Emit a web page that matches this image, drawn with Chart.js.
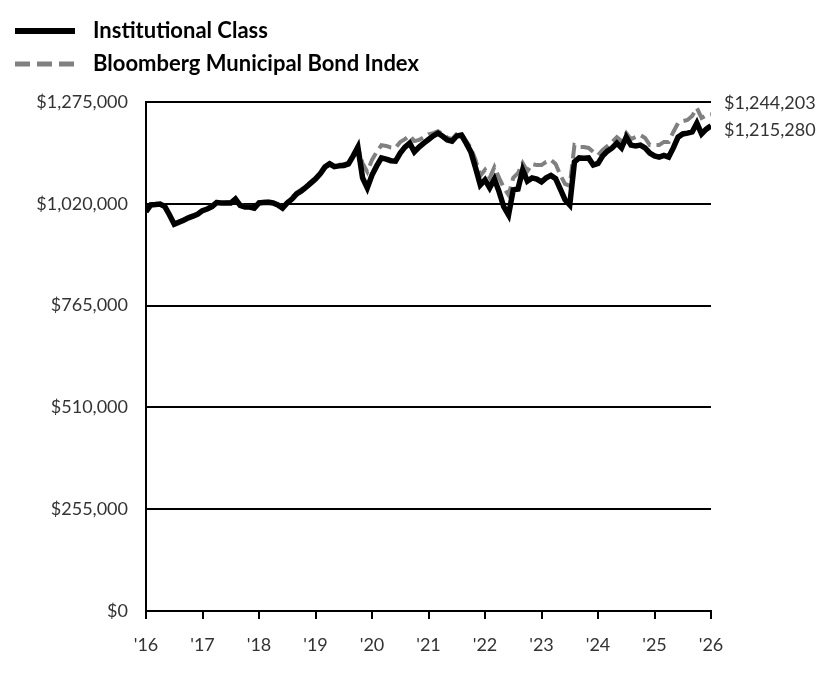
<!DOCTYPE html>
<html>
<head>
<meta charset="utf-8">
<script src="https://cdn.jsdelivr.net/npm/chart.js@4.4.1/dist/chart.umd.min.js"></script>
<style>
  body { margin: 0; background: #fff; }
  #wrap { position: relative; width: 840px; height: 696px; }
  canvas { position: absolute; left: 0; top: 0; }
  .leg { position: absolute; left: 15px; font-family: Lato, sans-serif; font-weight: bold; font-size: 22px; color: #000; }
  .leg svg { position: absolute; left: 0; top: -4px; }
  .leg span { position: absolute; left: 78px; white-space: nowrap; line-height: 24px; top: -13px; }
</style>
</head>
<body>
<div id="wrap">
  <canvas id="growthChart" width="840" height="696"></canvas>
  <div class="leg" style="top:31px">
    <svg width="62" height="8"><line x1="0" y1="4" x2="60" y2="4" stroke="#000" stroke-width="6"/></svg>
    <span>Institutional Class</span>
  </div>
  <div class="leg" style="top:64px">
    <svg width="62" height="8"><line x1="0" y1="4" x2="60" y2="4" stroke="#808080" stroke-width="5" stroke-dasharray="15 7"/></svg>
    <span>Bloomberg Municipal Bond Index</span>
  </div>
</div>
<script>
// monthly values, 10 years ('16 -> '26), 121 points
const instValues = [
  1000000, 1017000, 1018000, 1019500, 1013000, 992000, 969000, 974000, 979000, 985000, 989000, 994000,
  1003000, 1007000, 1013000, 1023000, 1022000, 1022000, 1022000, 1032000, 1016000, 1012000, 1012000, 1009000,
  1022000, 1023000, 1024000, 1022000, 1017000, 1009000, 1022000, 1032000, 1045000, 1052000, 1062000, 1072000,
  1082000, 1095000, 1112000, 1120000, 1113000, 1115000, 1116000, 1120000, 1140000, 1162000, 1085000, 1060000,
  1092000, 1115000, 1135000, 1132000, 1128000, 1127000, 1147000, 1162000, 1172000, 1150000, 1162000, 1172000,
  1181000, 1190000, 1197000, 1189000, 1180000, 1177000, 1190000, 1192000, 1172000, 1150000, 1110000, 1067000,
  1080000, 1060000, 1082000, 1050000, 1012000, 992000, 1055000, 1057000, 1105000, 1077000, 1085000, 1082000,
  1075000, 1085000, 1091000, 1083000, 1057000, 1030000, 1017000, 1125000, 1135000, 1134000, 1135000, 1117000,
  1121000, 1140000, 1152000, 1160000, 1172000, 1160000, 1187000, 1167000, 1165000, 1167000, 1160000, 1147000,
  1140000, 1137000, 1141000, 1137000, 1160000, 1187000, 1195000, 1197000, 1200000, 1222000, 1195000, 1207000,
  1215280
];

const indexValues = [
  1000000, 1018000, 1019000, 1020500, 1014000, 994000, 971000, 976000, 981000, 987000, 991000, 996000,
  1005000, 1009000, 1015000, 1025000, 1024000, 1024000, 1024000, 1034000, 1018000, 1014000, 1014000, 1011000,
  1024000, 1025000, 1026000, 1024000, 1019000, 1012000, 1024000, 1036000, 1048000, 1056000, 1065000, 1075000,
  1085000, 1098000, 1114000, 1122000, 1116000, 1118000, 1119000, 1123000, 1142000, 1160000, 1122000, 1100000,
  1130000, 1150000, 1167000, 1165000, 1161000, 1160000, 1175000, 1182000, 1191000, 1177000, 1180000, 1187000,
  1194000, 1197000, 1202000, 1195000, 1186000, 1182000, 1195000, 1196000, 1177000, 1160000, 1130000, 1090000,
  1105000, 1085000, 1112000, 1085000, 1060000, 1042000, 1085000, 1097000, 1122000, 1102000, 1120000, 1117000,
  1117000, 1125000, 1130000, 1120000, 1092000, 1070000, 1065000, 1167000, 1162000, 1162000, 1160000, 1150000,
  1142000, 1155000, 1165000, 1175000, 1187000, 1177000, 1197000, 1182000, 1187000, 1192000, 1185000, 1167000,
  1167000, 1167000, 1175000, 1175000, 1200000, 1222000, 1227000, 1230000, 1240000, 1260000, 1235000, 1242000,
  1244203
];

const yearLabels = ["'16", "'17", "'18", "'19", "'20", "'21", "'22", "'23", "'24", "'25", "'26"];
const yTicks = [0, 255000, 510000, 765000, 1020000, 1275000];

const toPoints = arr => arr.map((v, i) => ({ x: i, y: v }));
const money = v => '$' + Math.round(v).toLocaleString('en-US');
const tickFont = { family: 'Lato, sans-serif', size: 18 };

// value labels at the right end of the lines
const endLabels = {
  id: 'endLabels',
  afterDatasetsDraw(chart) {
    const ctx = chart.ctx;
    const yScale = chart.scales.y;
    const last = instValues.length - 1;
    const yIdx = yScale.getPixelForValue(indexValues[last]) - 11;
    const yInst = Math.max(yScale.getPixelForValue(instValues[last]) + 3, yIdx + 27);
    ctx.save();
    ctx.font = '18px Lato, sans-serif';
    ctx.fillStyle = '#333';
    ctx.textAlign = 'left';
    ctx.textBaseline = 'middle';
    const x = chart.chartArea.right + 13;
    ctx.fillText(money(indexValues[last]), x, yIdx);
    ctx.fillText(money(instValues[last]), x, yInst);
    ctx.restore();
  }
};

const ctx = document.getElementById('growthChart').getContext('2d');
new Chart(ctx, {
  type: 'line',
  data: {
    datasets: [{
      label: 'Institutional Class',
      data: toPoints(instValues),
      borderColor: '#000',
      borderWidth: 5.5,
      pointRadius: 0,
      tension: 0,
      order: 0
    }, {
      label: 'Bloomberg Municipal Bond Index',
      data: toPoints(indexValues),
      borderColor: '#808080',
      borderWidth: 4,
      borderDash: [14, 6],
      pointRadius: 0,
      tension: 0,
      order: 1
    }]
  },
  options: {
    responsive: false,
    animation: false,
    layout: { padding: { top: 102, right: 129, left: 0, bottom: 0 } },
    plugins: {
      legend: { display: false },
      tooltip: { enabled: false }
    },
    scales: {
      x: {
        type: 'linear',
        min: 0,
        max: 120,
        afterFit: s => { s.height = 85; },
        afterBuildTicks: s => { s.ticks = yearLabels.map((_, i) => ({ value: i * 12 })); },
        ticks: {
          callback: v => yearLabels[v / 12],
          font: tickFont,
          color: '#333',
          padding: 15,
          maxRotation: 0
        },
        grid: {
          drawOnChartArea: false,
          drawTicks: true,
          tickLength: 8,
          color: '#000',
          lineWidth: 2
        },
        border: { color: '#000', width: 2 }
      },
      y: {
        min: 0,
        max: 1275000,
        afterFit: s => { s.width = 146; },
        afterBuildTicks: s => { s.ticks = yTicks.map(v => ({ value: v })); },
        ticks: {
          callback: v => money(v),
          font: tickFont,
          color: '#333',
          padding: 18
        },
        grid: {
          drawTicks: false,
          color: '#000',
          lineWidth: 2
        },
        border: { color: '#000', width: 2 }
      }
    }
  },
  plugins: [endLabels]
});
</script>
</body>
</html>
